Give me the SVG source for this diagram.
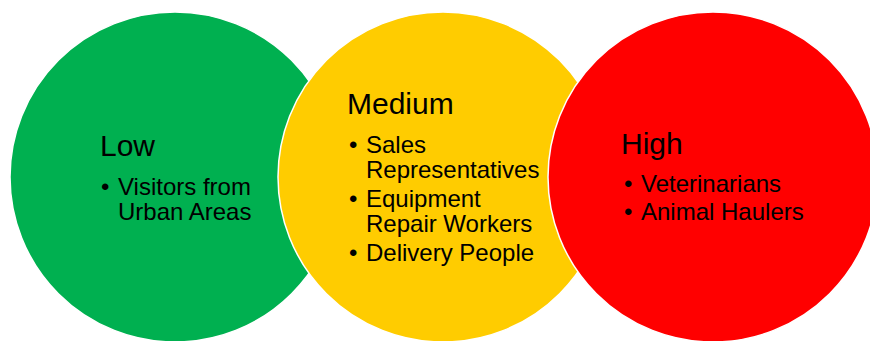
<svg xmlns="http://www.w3.org/2000/svg" width="870" height="341" viewBox="0 0 870 341">
  <style>
    .c { stroke: #ffffff; stroke-width: 1.5; }
    text { font-family: "Liberation Sans", Arial, sans-serif; fill: #000000; }
    .h { font-size: 30px; }
    .b { font-size: 24px; }
  </style>
  <rect width="870" height="341" fill="#ffffff"/>
  <g id="low">
    <circle class="c" cx="175" cy="177" r="165" fill="#00B050"/>
    <text class="h" x="100" y="156">Low</text>
    <text class="b" x="101" y="195">•</text>
    <text class="b" x="118" y="195">Visitors from</text>
    <text class="b" x="118" y="220">Urban Areas</text>
  </g>
  <g id="medium">
    <circle class="c" cx="443" cy="177" r="165" fill="#FFCC00"/>
    <text class="h" x="347" y="114">Medium</text>
    <text class="b" x="349" y="153">•</text>
    <text class="b" x="366" y="153">Sales</text>
    <text class="b" x="366" y="178">Representatives</text>
    <text class="b" x="349" y="207">•</text>
    <text class="b" x="366" y="207">Equipment</text>
    <text class="b" x="366" y="232">Repair Workers</text>
    <text class="b" x="349" y="261">•</text>
    <text class="b" x="366" y="261">Delivery People</text>
  </g>
  <g id="high">
    <circle class="c" cx="713" cy="177" r="165" fill="#FF0000"/>
    <text class="h" x="621" y="154">High</text>
    <text class="b" x="624" y="192">•</text>
    <text class="b" x="641" y="192">Veterinarians</text>
    <text class="b" x="624" y="220">•</text>
    <text class="b" x="641" y="220">Animal Haulers</text>
  </g>
  <g id="connectors"></g>
</svg>
